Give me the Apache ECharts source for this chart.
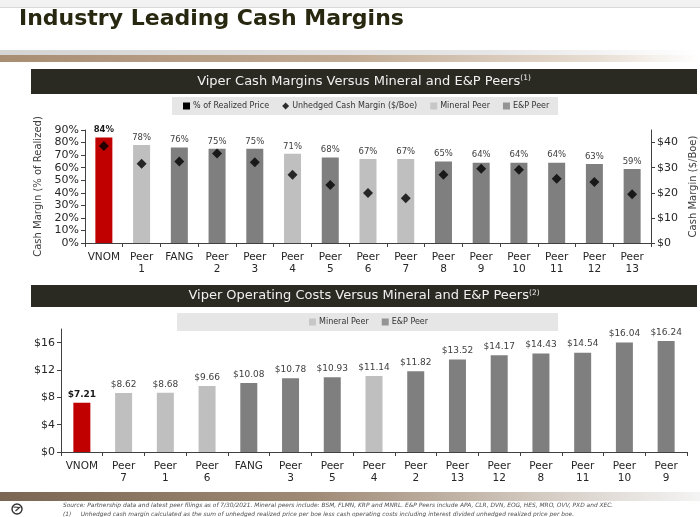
<!DOCTYPE html>
<html><head><meta charset="utf-8">
<script src="https://cdn.jsdelivr.net/npm/echarts/dist/echarts.min.js"></script>
<style>html,body{margin:0;padding:0;background:#fff}#c{width:700px;height:517px}</style>
</head><body><div id="c"></div><script>
// ---- data ----
const categories1 = ['VNOM','Peer 1','FANG','Peer 2','Peer 3','Peer 4','Peer 5','Peer 6','Peer 7','Peer 8','Peer 9','Peer 10','Peer 11','Peer 12','Peer 13'];
const marginPct = [84,78,76,75,75,71,68,67,67,65,64,64,64,63,59];
const cashMarginUsd = [38.6,31.6,32.5,35.6,32.2,27.2,23.1,19.9,17.8,27.2,29.6,29.2,25.6,24.3,19.4];
const peerType1 = ['V','M','E','E','E','M','E','M','M','E','E','E','E','E','E'];
const categories2 = ['VNOM','Peer 7','Peer 1','Peer 6','FANG','Peer 3','Peer 5','Peer 4','Peer 2','Peer 13','Peer 12','Peer 8','Peer 11','Peer 10','Peer 9'];
const opCost = [7.21,8.62,8.68,9.66,10.08,10.78,10.93,11.14,11.82,13.52,14.17,14.43,14.54,16.04,16.24];
const peerType2 = ['V','M','M','M','E','E','E','M','E','E','E','E','E','E','E'];
const legend1Names = ['% of Realized Price','Unhedged Cash Margin ($/Boe)','Mineral Peer','E&P Peer'];
const legend2Names = ['Mineral Peer','E&P Peer'];

const FONT = 'DejaVu Sans';
const typeColor = {V:'#c00000', M:'#bfbfbf', E:'#7f7f7f'};
const axisCol = '#404040';
const txtCol = '#262626';

const chart = echarts.init(document.getElementById('c'));

function catAxis(gridIndex, data){
  return {
    type:'category', gridIndex, data,
    axisLine:{show:true, lineStyle:{color:axisCol, width:1}},
    axisTick:{show:true, length:4, interval:0, lineStyle:{color:axisCol}},
    axisLabel:{interval:0, fontFamily:FONT, fontSize:10.5, color:txtCol, margin:8, lineHeight:12.5,
      formatter:v=>v.replace(' ','\n')},
    splitLine:{show:false}
  };
}
function headerText(x, y, main, sup){
  return {type:'text', x, y, silent:true, style:{text:'{a|'+main+'}{s|'+sup+'}', align:'center', verticalAlign:'middle',
    rich:{a:{fontFamily:FONT, fontSize:13, fill:'#f0f0f0'}, s:{fontFamily:FONT, fontSize:7.5, fill:'#f0f0f0', verticalAlign:'top', padding:[0,0,6,0]}}}};
}

const option = {
  animation:false,
  textStyle:{fontFamily:FONT},
  graphic:[
    {type:'rect', shape:{x:0,y:0,width:700,height:7}, style:{fill:'#f2f2f2'}, silent:true},
    {type:'rect', shape:{x:0,y:7,width:700,height:1}, style:{fill:'#d9d9d9'}, silent:true},
    {type:'text', x:19, y:8, style:{text:'Industry Leading Cash Margins', font:'bold 22px "DejaVu Sans"', fill:'#28270f'}, silent:true},
    {type:'rect', shape:{x:0,y:50,width:700,height:5}, style:{fill:new echarts.graphic.LinearGradient(0,0,1,0,[{offset:0,color:'#d4d4d4'},{offset:0.7,color:'#e6e6e6'},{offset:1,color:'#ffffff'}])}, silent:true},
    {type:'rect', shape:{x:0,y:55,width:700,height:7}, style:{fill:new echarts.graphic.LinearGradient(0,0,1,0,[{offset:0,color:'#a88d72'},{offset:0.5,color:'#c2ab94'},{offset:0.85,color:'#e7ddd2'},{offset:1,color:'#ffffff'}])}, silent:true},
    // header 1
    {type:'rect', shape:{x:31,y:69,width:666,height:25}, style:{fill:'#2b2a22'}, silent:true},
    headerText(364, 81.5, 'Viper Cash Margins Versus Mineral and E&P Peers', '(1)'),
    {type:'rect', shape:{x:172,y:97,width:386,height:18}, style:{fill:'#e6e6e6'}, silent:true},
    // header 2
    {type:'rect', shape:{x:31,y:285,width:666,height:22}, style:{fill:'#2b2a22'}, silent:true},
    headerText(364, 296, 'Viper Operating Costs Versus Mineral and E&P Peers', '(2)'),
    {type:'rect', shape:{x:177,y:313,width:381,height:18}, style:{fill:'#e6e6e6'}, silent:true},
    // footer
    {type:'rect', shape:{x:0,y:492,width:700,height:9}, style:{fill:new echarts.graphic.LinearGradient(0,0,1,0,[{offset:0,color:'#7a6652'},{offset:0.45,color:'#a08b76'},{offset:0.8,color:'#d8d0c8'},{offset:1,color:'#f4f4f4'}])}, silent:true},
    {type:'circle', shape:{cx:17, cy:509, r:5}, style:{fill:'none', stroke:'#333', lineWidth:1.4}, silent:true},
    {type:'polyline', shape:{points:[[13.5,507],[19.5,507.5],[15.5,511]]}, style:{fill:'none', stroke:'#333', lineWidth:1.2}, silent:true},
    {type:'text', x:63, y:505, style:{text:'Source: Partnership data and latest peer filings as of 7/30/2021. Mineral peers include: BSM, FLMN, KRP and MNRL. E&P Peers include APA, CLR, DVN, EOG, HES, MRO, OVV, PXD and XEC.', font:'italic 5.9px "DejaVu Sans"', fill:'#4d4d4d', verticalAlign:'middle'}, silent:true},
    {type:'text', x:63, y:514, style:{text:'(1)     Unhedged cash margin calculated as the sum of unhedged realized price per boe less cash operating costs including interest divided unhedged realized price per boe.', font:'italic 5.9px "DejaVu Sans"', fill:'#4d4d4d', verticalAlign:'middle'}, silent:true}
  ],
  legend:[
    {data:[{name:legend1Names[0],icon:'rect'},{name:legend1Names[1],icon:'diamond'},{name:legend1Names[2],icon:'rect'},{name:legend1Names[3],icon:'rect'}],
     left:183, top:102, padding:0, itemWidth:7, itemHeight:7, itemGap:13, selectedMode:false,
     textStyle:{fontFamily:FONT, fontSize:8, color:'#333', padding:[0,0,0,-2]}},
    {data:[{name:legend2Names[0],icon:'rect'},{name:legend2Names[1],icon:'rect'}],
     left:309, top:318, padding:0, itemWidth:7, itemHeight:7, itemGap:13, selectedMode:false,
     textStyle:{fontFamily:FONT, fontSize:8, color:'#333', padding:[0,0,0,-2]}}
  ],
  grid:[
    {left:85, right:49, top:130, bottom:274, outerBoundsMode:'none', containLabel:false},
    {left:61, right:13, top:329, bottom:65, outerBoundsMode:'none', containLabel:false}
  ],
  xAxis:[catAxis(0, categories1), catAxis(1, categories2)],
  yAxis:[
    {type:'value', gridIndex:0, position:'left', min:0, max:90, interval:10,
     axisLine:{show:true, lineStyle:{color:axisCol}}, axisTick:{show:true, length:4, lineStyle:{color:axisCol}},
     axisLabel:{fontFamily:FONT, fontSize:11, color:txtCol, margin:6, formatter:'{value}%'}, splitLine:{show:false},
     name:'Cash Margin (% of Realized)', nameLocation:'middle', nameRotate:90, nameGap:33,
     nameTextStyle:{fontFamily:FONT, fontSize:10, color:axisCol}},
    {type:'value', gridIndex:0, position:'right', min:0, max:45, interval:10,
     axisLine:{show:true, lineStyle:{color:axisCol}}, axisTick:{show:true, length:4, lineStyle:{color:axisCol}},
     axisLabel:{fontFamily:FONT, fontSize:11, color:txtCol, margin:6, showMaxLabel:false, formatter:v=> v>=45?'':'$'+v}, splitLine:{show:false},
     name:'Cash Margin ($/Boe)', nameLocation:'middle', nameRotate:90, nameGap:27,
     nameTextStyle:{fontFamily:FONT, fontSize:10, color:axisCol}},
    {type:'value', gridIndex:1, position:'left', min:0, max:18, interval:4,
     axisLine:{show:true, lineStyle:{color:axisCol}}, axisTick:{show:true, length:4, lineStyle:{color:axisCol}},
     axisLabel:{fontFamily:FONT, fontSize:11, color:txtCol, margin:6, showMaxLabel:false, formatter:v=> v>=18?'':'$'+v}, splitLine:{show:false}}
  ],
  series:[
    {name:legend1Names[0], type:'bar', xAxisIndex:0, yAxisIndex:0, barWidth:17, itemStyle:{color:'#000'},
     data: marginPct.map((v,i)=>({value:v, itemStyle:{color:typeColor[peerType1[i]]},
        label: peerType1[i]==='V' ? {fontWeight:'bold', color:'#1a1a1a'} : {}})),
     label:{show:true, position:'top', distance:3, fontFamily:FONT, fontSize:8.5, color:'#404040', formatter:'{c}%'}},
    {name:legend1Names[1], type:'scatter', xAxisIndex:0, yAxisIndex:1, symbol:'diamond', symbolSize:10,
     itemStyle:{color:'#000'}, data:cashMarginUsd, z:5},
    {name:legend1Names[2], type:'scatter', xAxisIndex:0, yAxisIndex:0, symbol:'rect', itemStyle:{color:typeColor.M}, data:[]},
    {name:legend1Names[3], type:'scatter', xAxisIndex:0, yAxisIndex:0, symbol:'rect', itemStyle:{color:typeColor.E}, data:[]},
    {name:'Operating Cost', type:'bar', xAxisIndex:1, yAxisIndex:2, barWidth:17,
     data: opCost.map((v,i)=>({value:v, itemStyle:{color:typeColor[peerType2[i]]},
        label: peerType2[i]==='V' ? {fontWeight:'bold', color:'#1a1a1a'} : {}})),
     label:{show:true, position:'top', distance:4, fontFamily:FONT, fontSize:9, color:'#404040', formatter:p=>'$'+p.value.toFixed(2)}}
  ]
};
chart.setOption(option);
</script></body></html>
